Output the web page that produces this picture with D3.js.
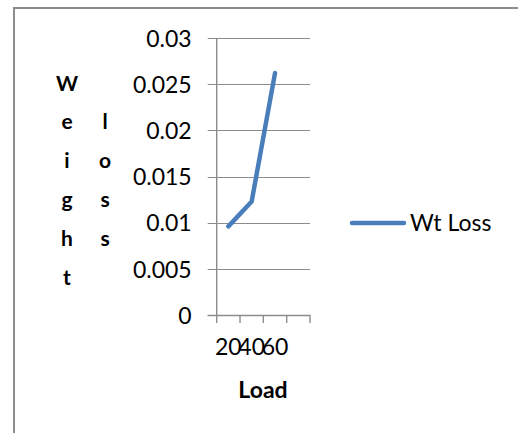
<!DOCTYPE html>
<html>
<head>
<meta charset="utf-8">
<script src="https://cdn.jsdelivr.net/npm/d3@7"></script>
<style>
  body { margin: 0; background: #fff; }
  svg text { font-family: Lato, "Liberation Sans", sans-serif; fill: #000; }
</style>
</head>
<body>
<div id="chart"></div>
<script>
// chart values
const loads = ["20", "40", "60", ""];
const wtLoss = [0.0096, 0.0123, 0.0262];
const yTicks = [0, 0.005, 0.01, 0.015, 0.02, 0.025, 0.03];
const seriesName = "Wt Loss";
const yTitleCols = ["Weight", "loss"];
const xTitle = "Load";

class WeightChart {
  constructor(el) {
    this.w = 518;
    this.h = 433;
    this.plot = { left: 216.7, right: 310, top: 38, bottom: 315 };

    this.xScale = d3
      .scaleBand()
      .domain(loads)
      .range([this.plot.left, this.plot.right]);

    this.yScale = d3
      .scaleLinear()
      .domain([0, 0.03])
      .range([this.plot.bottom, this.plot.top]);

    this.svg = d3
      .select(el)
      .append("svg")
      .attr("width", this.w)
      .attr("height", this.h);

    this.create();
  }

  create() {
    let that = this;
    let svg = this.svg;
    let p = this.plot;

    // outer frame
    svg.append("rect")
      .attr("x", 14).attr("y", 8)
      .attr("width", 600).attr("height", 500)
      .attr("fill", "#fff")
      .attr("stroke", "#8c8c8c")
      .attr("stroke-width", 2);

    // gridlines (they start at the tick mark left of the axis)
    svg.append("g")
      .selectAll("line")
      .data(yTicks)
      .join("line")
      .attr("x1", p.left - 9)
      .attr("x2", p.right)
      .attr("y1", d => Math.round(that.yScale(d)) + 0.5)
      .attr("y2", d => Math.round(that.yScale(d)) + 0.5)
      .attr("stroke", "#8c8c8c")
      .attr("stroke-width", 1.2);

    // y axis labels
    let yAxis = svg.append("g")
      .attr("transform", `translate(${p.left - 25},0)`)
      .call(d3.axisLeft(this.yScale).tickValues(yTicks).tickSize(0).tickPadding(0)
        .tickFormat(d => String(+d.toFixed(3))));
    yAxis.select(".domain").remove();
    yAxis.selectAll("text")
      .style("font-family", "Lato, 'Liberation Sans', sans-serif")
      .style("font-size", "23px")
      .attr("dy", "0.36em")
      .attr("fill", "#000");

    // y axis line
    svg.append("line")
      .attr("x1", p.left).attr("x2", p.left)
      .attr("y1", p.top).attr("y2", p.bottom + 8)
      .attr("stroke", "#8c8c8c").attr("stroke-width", 1.4);

    // x axis tick marks at band edges
    let edges = loads.map(d => that.xScale(d)).concat([p.right]);
    svg.append("g")
      .selectAll("line")
      .data(edges.slice(1))
      .join("line")
      .attr("x1", d => d).attr("x2", d => d)
      .attr("y1", p.bottom).attr("y2", p.bottom + 8)
      .attr("stroke", "#8c8c8c").attr("stroke-width", 1.4);

    let xAxis = svg.append("g")
      .attr("transform", `translate(0,${p.bottom + 24})`)
      .call(d3.axisBottom(this.xScale).tickSize(0).tickPadding(0));
    xAxis.select(".domain").remove();
    xAxis.selectAll("text")
      .style("font-family", "Lato, 'Liberation Sans', sans-serif")
      .style("font-size", "23px")
      .attr("dy", "0.71em")
      .attr("fill", "#000");

    svg.append("line")
      .attr("x1", p.left - 9).attr("x2", p.right)
      .attr("y1", Math.round(p.bottom) + 0.5).attr("y2", Math.round(p.bottom) + 0.5)
      .attr("stroke", "#8c8c8c").attr("stroke-width", 1.4);

    // series line
    let line = d3.line()
      .x((d, i) => that.xScale(loads[i]) + that.xScale.bandwidth() / 2)
      .y(d => that.yScale(d));
    svg.append("path")
      .datum(wtLoss)
      .attr("d", line)
      .attr("fill", "none")
      .attr("stroke", "#4a7ebb")
      .attr("stroke-width", 4.5)
      .attr("stroke-linecap", "round")
      .attr("stroke-linejoin", "round");

    // y title, letters stacked in two columns
    let colX = [67, 105];
    let lineH = 38.8;
    yTitleCols.forEach(function(word, c) {
      let letters = word.split("");
      let y0 = 180 - (letters.length - 1) * lineH / 2;
      svg.append("g")
        .selectAll("text")
        .data(letters)
        .join("text")
        .attr("x", colX[c])
        .attr("y", (d, i) => y0 + i * lineH)
        .attr("dy", "0.36em")
        .attr("text-anchor", "middle")
        .style("font-size", "21px")
        .style("font-weight", "bold")
        .text(d => d);
    });

    // x title
    svg.append("text")
      .attr("x", 263).attr("y", 398)
      .attr("text-anchor", "middle")
      .style("font-size", "23px")
      .style("font-weight", "bold")
      .text(xTitle);

    // legend
    let legend = svg.append("g").attr("transform", "translate(352,223)");
    legend.append("line")
      .attr("x1", 0).attr("x2", 52)
      .attr("stroke", "#4a7ebb")
      .attr("stroke-width", 4.5)
      .attr("stroke-linecap", "round");
    legend.append("text")
      .attr("x", 58).attr("dy", "0.36em")
      .style("font-size", "23px")
      .text(seriesName);
  }
}

new WeightChart("#chart");
</script>
</body>
</html>
